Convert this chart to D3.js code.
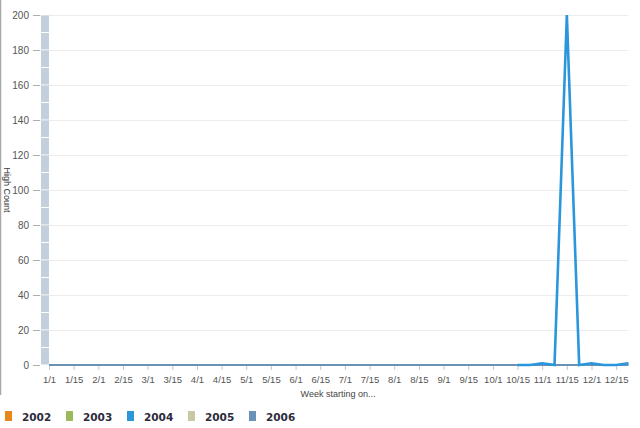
<!DOCTYPE html>
<html><head><meta charset="utf-8">
<script src="https://cdn.jsdelivr.net/npm/d3@7"></script>
<style>
html,body{margin:0;padding:0;background:#fff;}
svg{display:block;}
</style></head>
<body>
<svg id="chart" width="640" height="428"></svg>
<script>
// ---- data ----
const tickLabels = ["1/1","1/15","2/1","2/15","3/1","3/15","4/1","4/15","5/1","5/15","6/1","6/15",
  "7/1","7/15","8/1","8/15","9/1","9/15","10/1","10/15","11/1","11/15","12/1","12/15"];
const pointCount = 48;
const seriesNames = ["2002","2003","2004","2005","2006"];
const seriesColors = ["#e8861a","#9bbb59","#2a96dc","#c8c8a4","#6a92b4"];
const values2002 = [];
const values2003 = [];
const values2004 = [null,null,null,null,null,null,null,null,null,null,
  null,null,null,null,null,null,null,null,null,null,
  null,null,null,null,null,null,null,null,null,null,
  null,null,null,null,null,null,null,null,0,0,
  1,0,200,0,1,0,0,1];
const values2005 = [];
const values2006 = [0,0,0,0,0,0,0,0,0,0,0,0,0,0,0,0,0,0,0,0,0,0,0,0,
  0,0,0,0,0,0,0,0,0,0,0,0,0,0,0,0,0,0,0,0,0,0,0,0];
const sideBar = [200];
const yTicks = [0,20,40,60,80,100,120,140,160,180,200];

// ---- drawing ----
const svg = d3.select("#chart");
const x = d3.scalePoint().domain(d3.range(pointCount)).range([49, 628.5]);
const y = d3.scaleLinear().domain([0, 200]).range([365, 15]);

// left border
svg.append("line").attr("x1",0.5).attr("x2",0.5).attr("y1",0).attr("y2",395)
  .attr("stroke","#a8a8a8").attr("stroke-width",1.5);

// gridlines
svg.append("g").selectAll("line").data(yTicks.filter(d=>d>0)).join("line")
  .attr("x1",40).attr("x2",628).attr("y1",d=>Math.round(y(d))+0.5).attr("y2",d=>Math.round(y(d))+0.5)
  .attr("stroke","#ececec").attr("stroke-width",1);

// y axis
const yAxis = d3.axisLeft(y).tickValues(yTicks).tickSize(7).tickPadding(4);
const gy = svg.append("g").attr("transform","translate(40,0)").call(yAxis);
gy.select(".domain").remove();
gy.selectAll(".tick line").attr("stroke","#b0b0b0");
gy.selectAll(".tick text").attr("fill","#555").attr("font-family","Liberation Sans, Arial, sans-serif").attr("font-size","10px");

// side bar (stacked segments)
const segs = d3.range(0, sideBar[0], 10);
svg.append("g").selectAll("rect").data(segs).join("rect")
  .attr("x",41).attr("width",8)
  .attr("y",d=>y(d+10)+0.5).attr("height",d=>y(d)-y(d+10)-1)
  .attr("fill","#c3cfdc");

// x axis
const xAxis = d3.axisBottom(x).tickValues(d3.range(0,pointCount,2))
  .tickFormat(d=>tickLabels[d/2]).tickSize(4).tickPadding(6);
const gx = svg.append("g").attr("transform","translate(0,366)").call(xAxis);
gx.select(".domain").remove();
gx.selectAll(".tick line").attr("stroke","#c8c8c8");
gx.selectAll(".tick text").attr("fill","#555").attr("font-family","Liberation Sans, Arial, sans-serif").attr("font-size","9.5px");

// series lines
const allSeries = [values2002, values2003, values2004, values2005, values2006];
const drawOrder = [0,1,3,4,2];
const line = d3.line().defined(d=>d!=null).x((d,i)=>x(i)).y(d=>y(d));
drawOrder.forEach(k=>{
  const vals = allSeries[k];
  if (!vals.length) return;
  svg.append("path").datum(vals).attr("d",line).attr("fill","none")
    .attr("stroke",seriesColors[k]).attr("stroke-width", k===2?2.6:2)
    .attr("stroke-linejoin","miter").attr("stroke-miterlimit",20);
});

// axis titles
svg.append("text").attr("transform","translate(4,190) rotate(90)")
  .attr("text-anchor","middle").attr("font-family","Liberation Sans, Arial, sans-serif")
  .attr("font-size","9px").attr("fill","#333").text("High Count");
svg.append("text").attr("x",338).attr("y",397).attr("text-anchor","middle")
  .attr("font-family","Liberation Sans, Arial, sans-serif").attr("font-size","9px")
  .attr("fill","#444").text("Week starting on...");

// legend
const lg = svg.append("g").selectAll("g").data(seriesNames).join("g")
  .attr("transform",(d,i)=>`translate(${5+i*61},411)`);
lg.append("rect").attr("width",7).attr("height",10).attr("fill",(d,i)=>seriesColors[i]);
lg.append("text").attr("x",17).attr("y",9.5).attr("font-family","DejaVu Sans, Verdana, sans-serif")
  .attr("font-weight","bold").attr("font-size","10.5px").attr("fill","#2b2b3b").text(d=>d);
</script>
</body></html>
